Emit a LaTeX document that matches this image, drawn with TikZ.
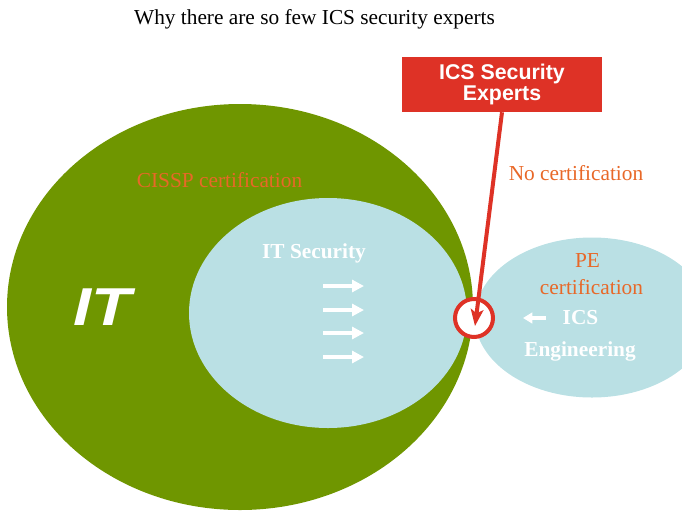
\documentclass[tikz,border=0pt]{standalone}
\usepackage{fontspec}
\setmainfont{Liberation Serif}
\setsansfont{Liberation Sans}
\usetikzlibrary{arrows.meta}
\definecolor{itgreen}{RGB}{111,150,0}
\definecolor{secblue}{RGB}{186,224,228}
\definecolor{alertred}{RGB}{222,50,38}
\definecolor{certorange}{RGB}{232,104,40}

\begin{document}
\begin{tikzpicture}[x=0.75pt,y=0.75pt,yscale=-1,xscale=1,
  txt/.style={anchor=base,inner sep=0pt,font=\fontsize{16}{19}\selectfont},
  certtxt/.style={txt,text=certorange},
  areatxt/.style={txt,text=white,font=\fontsize{16}{19}\selectfont\bfseries},
  flowarrow/.style={draw=white,line width=3pt,-{Triangle[length=9pt,width=9pt]}},
  expertbox/.style={fill=alertred,text=white,align=center,minimum width=150pt,minimum height=41.25pt,inner sep=0pt,font=\sffamily\bfseries\fontsize{16}{15.5}\selectfont},
  hitring/.style={circle,draw=alertred,fill=white,line width=3pt,minimum size=28.5pt,inner sep=0pt}]
\useasboundingbox (0,0) rectangle (682,515);
\clip (0,0) rectangle (682,515);

%Shape: Ellipse
\fill[itgreen] (240,307) ellipse [x radius=233, y radius=203];
%Shape: Ellipse
\fill[secblue] (328,313) ellipse [x radius=139, y radius=115];
%Shape: Ellipse
\fill[secblue] (592,317.5) ellipse [x radius=117, y radius=80];

% Text Node
\node[txt] (title) at (314.5,24) {Why there are so few ICS security experts};
% Text Node
\node[certtxt] (cissp) at (219.5,187) {CISSP certification};
% Text Node
\node[certtxt] (nocert) at (576,180) {No certification};
% Text Node
\node[areatxt] (itsec) at (314,258) {IT Security};
% Text Node
\node[certtxt] (pe) at (587.5,267) {PE};
% Text Node
\node[certtxt] (pecert) at (591.5,294) {certification};
% Text Node
\node[areatxt] (ics) at (580.5,324) {ICS};
% Text Node
\node[areatxt] (eng) at (580,356) {Engineering};
% Text Node
\node[txt,text=white,font=\sffamily\bfseries\itshape\fontsize{40}{40}\selectfont] (it) at (102.5,325) {\scalebox{1.22}[1]{IT}};

%Arrows
\foreach \y [count=\i] in {286,310,333,357}
  \draw[flowarrow] (323,\y) coordinate (flow\i) -- (364,\y);
\draw[flowarrow,-{Triangle[length=7pt,width=8pt]}] (546,318) coordinate (back) -- (523,318);

%Shape: Rectangle
\node[expertbox] (experts) at (502,84.5) {ICS Security\\Experts};
%Shape: Circle
\node[hitring] (hit) at (474,318) {};
\coordinate (tip) at (475,326);
\draw[alertred,line width=3pt,-{Stealth[length=12.5pt,width=9.5pt,inset=3pt]}] (experts.south) -- (tip);

\end{tikzpicture}
\end{document}
